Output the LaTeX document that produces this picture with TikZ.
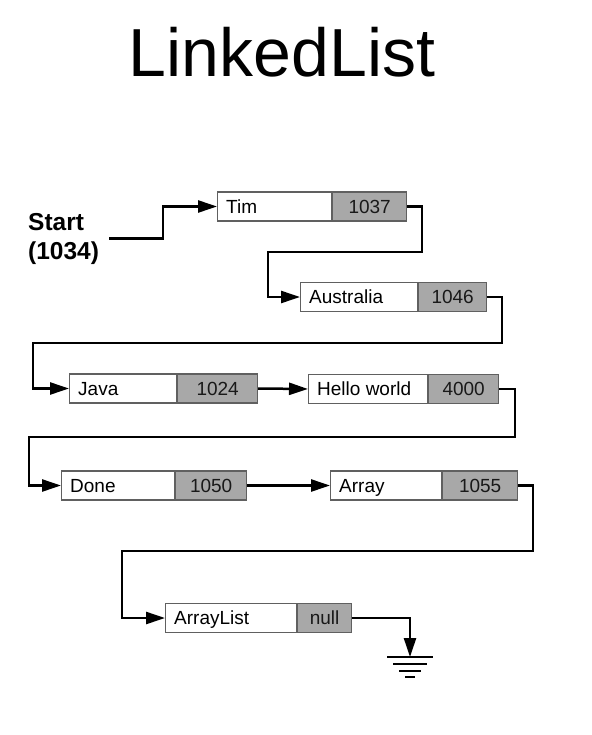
\documentclass[tikz,border=0pt]{standalone}
\usepackage{fontspec}
\setmainfont{Liberation Sans}
\usepackage{tikz}
\usetikzlibrary{calc}
\usetikzlibrary{arrows.meta}
\definecolor{cellgray}{RGB}{168,168,168}
\definecolor{cellline}{RGB}{96,96,96}

\tikzset{
  cell/.style={draw=cellline, line width=1.1pt, minimum height=29pt, inner sep=0pt,
    anchor=west, font=\fontsize{19}{22}\selectfont, text=black!90,
    text height=15pt, text depth=1.5pt},
  valcell/.style={cell, fill=cellgray, minimum width=#1},
  link/.style={line width=2.5pt, -{Triangle[length=19pt,width=12pt]}}
}

\begin{document}
\begin{tikzpicture}[x=1pt,y=-1pt]
  \useasboundingbox (0,0) rectangle (591,735);
  \node (title) at (282,52) {\fontsize{68}{72}\selectfont LinkedList};
  \node[anchor=west, align=left, inner sep=0pt, font=\bfseries\fontsize{24.5}{29}\selectfont] (start) at (28,238.5) {Start\\(1034)};
  % list cells: name/value
  \foreach \id/\x/\y/\wa/\wb/\nm/\va in {
      tim/217/206.5/114/74/Tim/1037,
      aus/300/297/117/68/Australia/1046,
      java/69/388.5/107/80/Java/1024,
      hello/308/389/119/70/Hello world/4000,
      done/61/485.5/113/71/Done/1050,
      array/330/485.5/111/75/Array/1055,
      alist/165/618/131/54/ArrayList/null} {
    \node[cell, minimum width=\wa] (\id) at (\x,\y) {};
    \node[anchor=west, inner sep=0pt, font=\fontsize{19}{22}\selectfont,
      text height=15pt, text depth=1.5pt] at ($(\id.west)+(9,0)$) {\nm};
    \node[valcell=\wb] (\id v) at (\id.east) {\va};
  }
  \coordinate (gnd) at (410,657);
  \draw[link, shorten <=10pt] (start.east) -| (163,206.5) -- (tim.west);
  \draw[link] (timv.east) -- ++(15,0) |- (268,252) |- (aus.west);
  \draw[link] (ausv.east) -- ++(15,0) |- (33,343) |- (java.west);
  \draw[link] (javav.east) -- (hello.west);
  \draw[link] (hellov.east) -- ++(16,0) |- (29,437) |- (done.west);
  \draw[link] (donev.east) -- (array.west);
  \draw[link] (arrayv.east) -- ++(15,0) |- (122,551) |- (alist.west);
  \draw[link] (alistv.east) -| (gnd);
  % ground
  \foreach \dy/\hw in {0/23,7/17,14/11,20/5}
    \draw[line width=2pt] ($(gnd)+(-\hw,\dy)$) -- ($(gnd)+(\hw,\dy)$);
\end{tikzpicture}
\end{document}
